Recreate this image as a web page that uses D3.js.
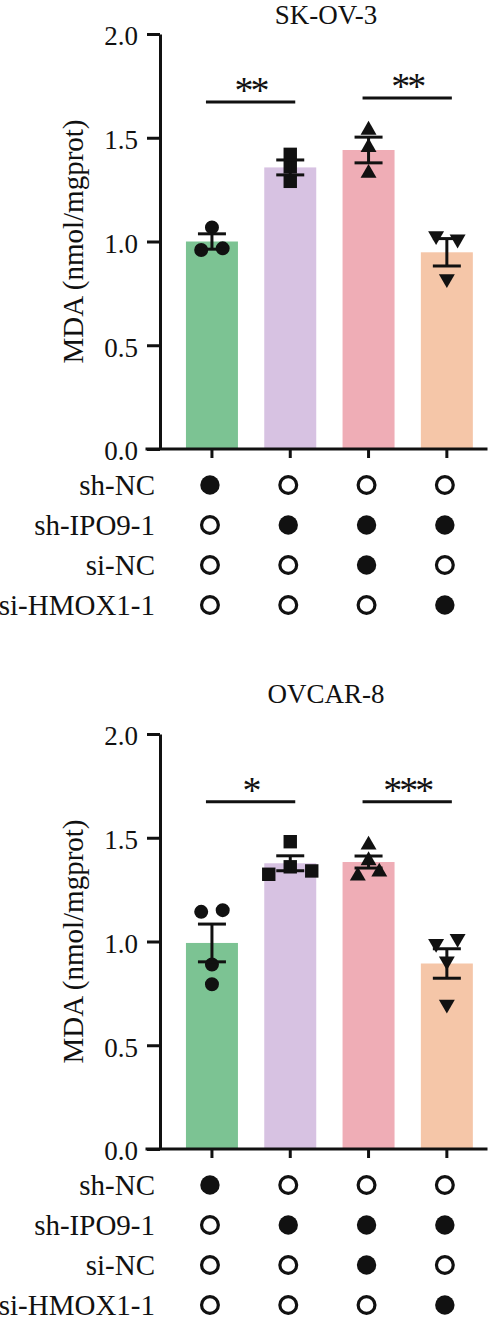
<!DOCTYPE html>
<html>
<head>
<meta charset="utf-8">
<script src="https://cdn.jsdelivr.net/npm/d3@7"></script>
<style>
  body { margin: 0; background: #fff; }
  svg text { font-family: "Liberation Serif", "Times New Roman", serif; fill: #111; }
</style>
</head>
<body>
<div class="chart"></div>
<script>
// ---------------------------------------- data ----------------------------------------

const groups = ["G1", "G2", "G3", "G4"];
const rowLabels = ["sh-NC", "sh-IPO9-1", "si-NC", "si-HMOX1-1"];
// 1 = filled dot (condition present), 0 = open dot
const membership = [
    [1, 0, 0, 0],
    [0, 1, 1, 1],
    [0, 0, 1, 0],
    [0, 0, 0, 1]
];
const yTicks = [0, 0.5, 1.0, 1.5, 2.0];
const yLabel = "MDA (nmol/mgprot)";

// SK-OV-3
const skov3Means = [1.00, 1.357, 1.441, 0.948];
const skov3Sems = [0.037, 0.036, 0.062, 0.066];
const skov3Points = [
    [1.068, 0.959, 0.967],
    [1.42, 1.36, 1.29],
    [1.537, 1.454, 1.329],
    [1.027, 1.011, 0.82]
];
const skov3Sig = [
    { from: 0, to: 1, value: 1.672, label: "**" },
    { from: 2, to: 3, value: 1.691, label: "**" }
];

// OVCAR-8
const ovcarMeans = [0.993, 1.377, 1.383, 0.894];
const ovcarSems = [0.091, 0.036, 0.029, 0.071];
const ovcarPoints = [
    [1.143, 1.151, 0.889, 0.794],
    [1.481, 1.324, 1.36, 1.34],
    [1.465, 1.39, 1.316, 1.335],
    [0.99, 1.014, 0.906, 0.697]
];
const ovcarSig = [
    { from: 0, to: 1, value: 1.674, label: "*" },
    { from: 2, to: 3, value: 1.674, label: "***" }
];

// ---------------------------------------- styles ----------------------------------------

const barColors = ["#7cc393", "#d7c2e2", "#efadb6", "#f5c6a8"];
const symbols = [d3.symbolCircle, d3.symbolSquare, d3.symbolTriangle, d3.symbolTriangle];
const symbolSizes = [154, 180, 110, 110];
const symbolRotate = [0, 0, 0, 180];
const ink = "#111";

const W = 503, H = 1324;
const svg = d3.select(".chart").append("svg")
    .attr("width", W)
    .attr("height", H);

svg.append("rect").attr("width", W).attr("height", H).attr("fill", "#fff");

// spread points that sit at almost the same height side by side (GraphPad-like scatter)
function swarmOffsets(values, y, gap, spacing) {
    const order = values.map((v, i) => i).sort((a, b) => y(values[a]) - y(values[b]));
    const rows = [];
    let cur = [order[0]];
    for (let k = 1; k < order.length; k++) {
        if (y(values[order[k]]) - y(values[order[k - 1]]) < gap) {
            cur.push(order[k]);
        } else {
            rows.push(cur);
            cur = [order[k]];
        }
    }
    rows.push(cur);
    const off = new Array(values.length).fill(0);
    rows.forEach(r => {
        r.sort((a, b) => a - b);
        r.forEach((idx, j) => { off[idx] = (j - (r.length - 1) / 2) * spacing; });
    });
    return off;
}

// ---------------------------------------- panel ----------------------------------------

function drawPanel(opts) {
    const top = opts.top;           // y of value 2.0
    const plotH = 415;
    const axisX = 160;
    const g = svg.append("g");

    const x = d3.scaleBand()
        .domain(groups)
        .range([172.8, 486])
        .paddingInner(0.336)
        .paddingOuter(0.168);

    const y = d3.scaleLinear().domain([0, 2]).range([top + plotH, top]);

    // title
    g.append("text")
        .attr("x", 326)
        .attr("y", opts.titleY)
        .attr("text-anchor", "middle")
        .attr("font-size", "27px")
        .text(opts.title);

    // y label
    g.append("text")
        .attr("transform", `translate(83,${(y(0) + y(2)) / 2}) rotate(-90)`)
        .attr("text-anchor", "middle")
        .attr("font-size", "29px")
        .text(yLabel);

    // bars
    g.selectAll(".bar")
        .data(opts.means)
        .join("rect")
        .attr("x", (d, i) => x(groups[i]))
        .attr("y", d => y(d))
        .attr("width", x.bandwidth())
        .attr("height", d => y(0) - y(d))
        .attr("fill", (d, i) => barColors[i]);

    // points
    opts.points.forEach((vals, i) => {
        const cx = x(groups[i]) + x.bandwidth() / 2;
        const off = swarmOffsets(vals, y, 10, 21.5);
        g.selectAll(null)
            .data(vals)
            .join("path")
            .attr("d", d3.symbol().type(symbols[i]).size(symbolSizes[i]))
            .attr("transform", (d, j) => `translate(${cx + off[j]},${y(d)}) rotate(${symbolRotate[i]})`)
            .attr("fill", ink);
    });

    // error bars (mean +/- SEM)
    opts.means.forEach((m, i) => {
        const cx = x(groups[i]) + x.bandwidth() / 2;
        const s = opts.sems[i];
        const eb = g.append("g").attr("stroke", ink).attr("stroke-width", 3);
        eb.append("line").attr("x1", cx).attr("x2", cx).attr("y1", y(m - s)).attr("y2", y(m + s));
        [m - s, m + s].forEach(v => {
            eb.append("line").attr("x1", cx - 14).attr("x2", cx + 14).attr("y1", y(v)).attr("y2", y(v));
        });
    });

    // y axis
    const yAxis = d3.axisLeft(y)
        .tickValues(yTicks)
        .tickFormat(d3.format(".1f"))
        .tickSize(13)
        .tickSizeOuter(0)
        .tickPadding(9);
    const ya = g.append("g")
        .attr("transform", `translate(${axisX},0)`)
        .call(yAxis);
    ya.selectAll("path, line").attr("stroke", ink).attr("stroke-width", 3);
    ya.selectAll("text")
        .attr("font-size", "27px")
        .attr("font-family", "Liberation Serif, Times New Roman, serif")
        .attr("fill", ink)
        .attr("dy", "0.4em");

    // x axis: ticks only, baseline drawn from the y-axis tick out to the end
    const xAxis = d3.axisBottom(x).tickSize(9).tickSizeOuter(0).tickFormat("");
    const xa = g.append("g")
        .attr("transform", `translate(0,${y(0)})`)
        .call(xAxis);
    xa.select(".domain").remove();
    xa.selectAll("line").attr("stroke", ink).attr("stroke-width", 3);
    g.append("line")
        .attr("x1", axisX - 13).attr("x2", x.range()[1])
        .attr("y1", y(0)).attr("y2", y(0))
        .attr("stroke", ink).attr("stroke-width", 3)
        .attr("stroke-linecap", "square");

    // significance lines
    opts.sig.forEach(s => {
        const x1 = x(groups[s.from]) + x.bandwidth() / 2 - 6;
        const x2 = x(groups[s.to]) + x.bandwidth() / 2 + 5;
        g.append("line")
            .attr("x1", x1).attr("x2", x2)
            .attr("y1", y(s.value)).attr("y2", y(s.value))
            .attr("stroke", ink).attr("stroke-width", 3);
        g.append("text")
            .attr("x", (x1 + x2) / 2)
            .attr("y", y(s.value) + 1)
            .attr("text-anchor", "middle")
            .attr("font-size", "38px")
            .attr("letter-spacing", "-3px")
            .text(s.label);
    });

    // condition matrix
    rowLabels.forEach((lab, r) => {
        const ry = y(0) + 36 + r * 40;
        g.append("text")
            .attr("x", 155)
            .attr("y", ry)
            .attr("dy", "0.34em")
            .attr("text-anchor", "end")
            .attr("font-size", "29px")
            .text(lab);
        membership[r].forEach((on, i) => {
            const cx = x(groups[i]) + x.bandwidth() / 2 - 2;
            g.append("circle")
                .attr("cx", cx)
                .attr("cy", ry)
                .attr("r", on ? 9.7 : 8.4)
                .attr("fill", on ? ink : "#fff")
                .attr("stroke", on ? "none" : ink)
                .attr("stroke-width", 3.2);
        });
    });
}

drawPanel({ title: "SK-OV-3", top: 34, titleY: 24, means: skov3Means, sems: skov3Sems, points: skov3Points, sig: skov3Sig });
drawPanel({ title: "OVCAR-8", top: 734, titleY: 703, means: ovcarMeans, sems: ovcarSems, points: ovcarPoints, sig: ovcarSig });
</script>
</body>
</html>
